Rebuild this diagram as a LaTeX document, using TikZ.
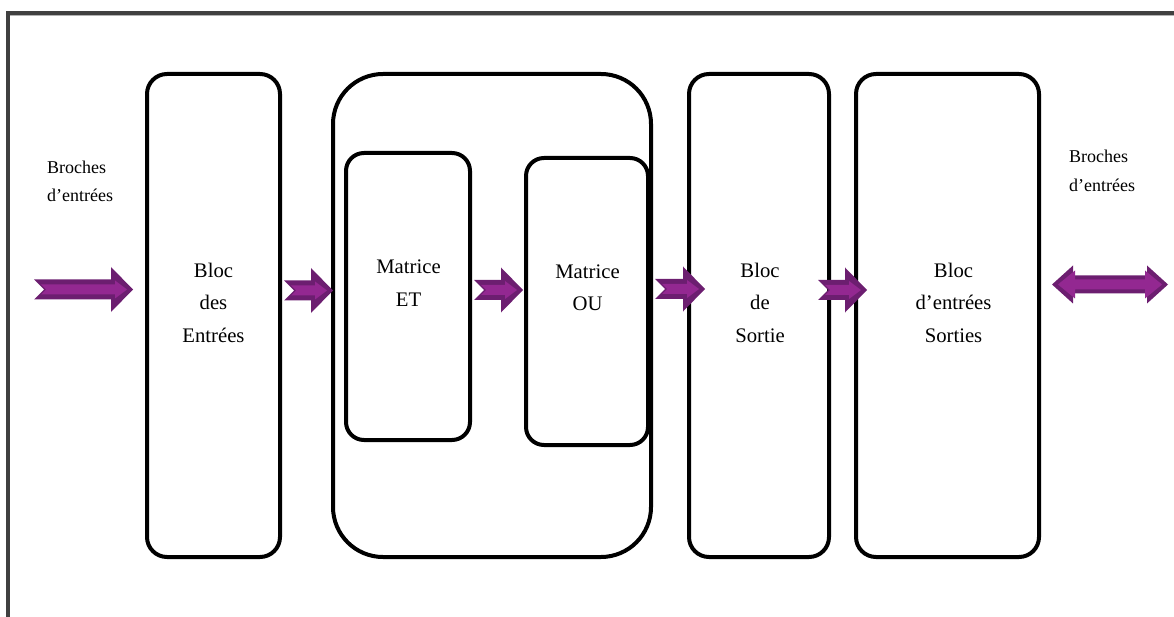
\documentclass[tikz,border=0pt]{standalone}
\usepackage{fontspec}
\setmainfont{Liberation Serif}

\definecolor{framegray}{RGB}{64,64,64}
\definecolor{arrowdark}{RGB}{108,30,112}
\definecolor{arrowlight}{RGB}{147,40,145}

% notched block arrow: tail x, tip x, centre y
\newcommand\flowarrow[3]{%
  \fill[arrowdark] (#1,#3-10) -- (#2-22,#3-10) -- (#2-22,#3-22.5) -- (#2,#3)
    -- (#2-22,#3+22.5) -- (#2-22,#3+10) -- (#1,#3+10) -- (#1+10,#3) -- cycle;
  \fill[arrowlight] (#1+7,#3-5) -- (#2-18,#3-5) -- (#2-18,#3-9) -- (#2-6,#3)
    -- (#2-18,#3+9) -- (#2-18,#3+5) -- (#1+7,#3+5) -- (#1+12,#3) -- cycle;
}
% two-headed block arrow: left tip x, right tip x, centre y
\newcommand\twowayarrow[3]{%
  \fill[arrowdark] (#1,#3) -- (#1+21,#3-19) -- (#1+21,#3-9) -- (#2-21,#3-9)
    -- (#2-21,#3-19) -- (#2,#3) -- (#2-21,#3+19) -- (#2-21,#3+9)
    -- (#1+21,#3+9) -- (#1+21,#3+19) -- cycle;
  \fill[arrowlight] (#1+6,#3) -- (#1+23,#3-14) -- (#1+23,#3-5) -- (#2-23,#3-5)
    -- (#2-23,#3-14) -- (#2-6,#3) -- (#2-23,#3+14) -- (#2-23,#3+5)
    -- (#1+23,#3+5) -- (#1+23,#3+14) -- cycle;
}

\begin{document}
\begin{tikzpicture}[x=1pt,y=-1pt,
  block/.style={draw, line width=4pt, rounded corners=#1, inner sep=0pt, outer sep=0pt},
  block/.default=20pt,
  txt/.style={font=\fontsize{20.7}{32.5}\selectfont, align=center, inner sep=0pt},
  pinlabel/.style={font=\fontsize{18}{28.5}\selectfont, align=left, inner sep=0pt, anchor=west}]
\useasboundingbox (0,0) rectangle (1174,617);

% page frame
\draw[gray!60, line width=1pt] (10,15.5) -- (1190,15.5);
\draw[framegray, line width=4pt] (8,640) -- (8,13) -- (1190,13);

% blocks
\node[block] (entrees) at (213.5,315.5) [minimum width=133pt, minimum height=483pt] {};
\node[block=50pt] (pla) at (492,315.5) [minimum width=318pt, minimum height=483pt] {};
\node[block=18pt] (et) at (408,296.5) [minimum width=124pt, minimum height=287pt] {};
\node[block=18pt] (ou) at (587,301.5) [minimum width=122pt, minimum height=287pt] {};
\node[block] (sortie) at (759,315.5) [minimum width=140pt, minimum height=483pt] {};
\node[block] (es) at (947.5,315.5) [minimum width=183pt, minimum height=483pt] {};

% block texts
\node[txt] (tentrees) at (213.5,302.5) {Bloc\\des\\Entrées};
\node[txt] (tet) at (408.5,283) {Matrice\\ET};
\node[txt] (tou) at (587.5,287.5) {Matrice\\OU};
\node[txt] (tsortie) at (760,302.5) {Bloc\\de\\Sortie};
\node[txt] (tes) at (953.5,302.5) {Bloc\\d’entrées\\Sorties};

% pin labels
\node[pinlabel] (pinin) at (47,181.5) {Broches\\d’entrées};
\node[pinlabel] (pinout) at (1069,171) {Broches\\d’entrées};

% signal flow
\flowarrow{34}{133}{289.5}
\flowarrow{284}{333}{290.5}
\flowarrow{474}{523}{290}
\flowarrow{655}{705}{289}
\flowarrow{818}{867}{290}
\twowayarrow{1052}{1168}{284.5}
\end{tikzpicture}
\end{document}
